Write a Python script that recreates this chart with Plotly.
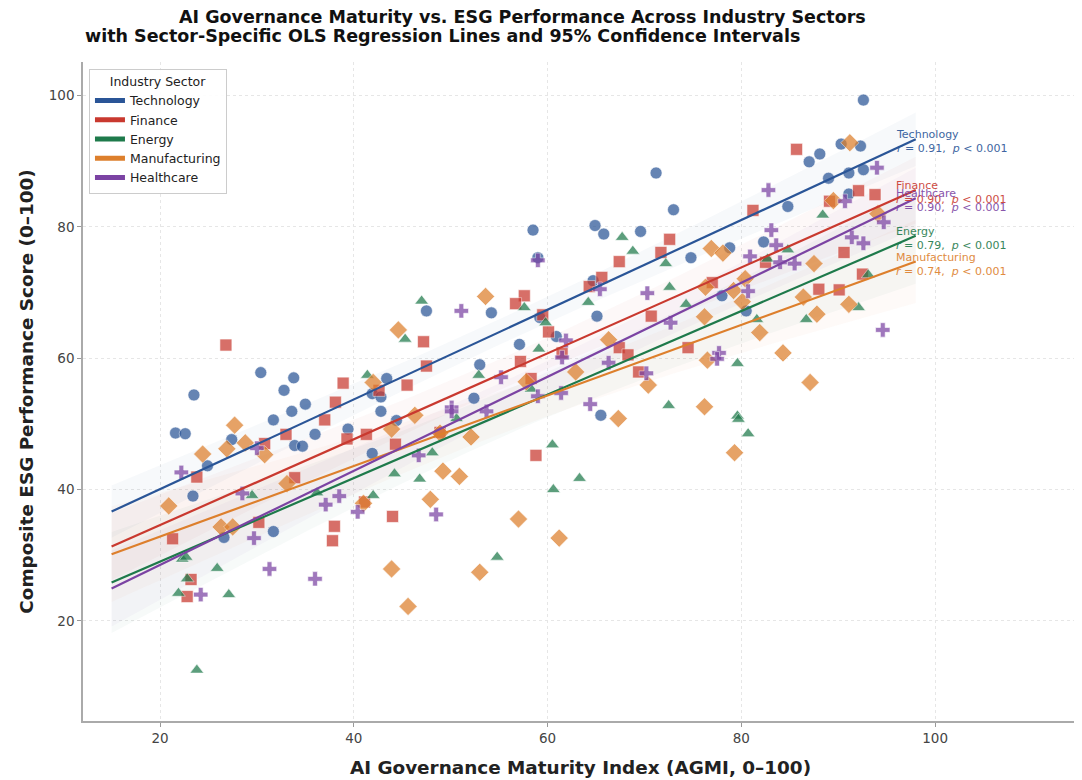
import numpy as np
import plotly.graph_objects as go

sectors = ["Technology", "Finance", "Energy", "Manufacturing", "Healthcare"]
colors = ["#2A5597", "#C9392F", "#1E7A4B", "#DD7F2C", "#7B43A3"]
symbols = ["circle", "square", "triangle-up", "diamond", "cross"]

tech_x = [30.4, 33.8, 32.8, 23.5, 35.0, 33.6, 31.7, 21.6, 22.6, 27.4, 36.0, 33.9, 34.7, 39.4, 24.9, 23.4, 31.7, 26.6,
          43.4, 41.9, 42.8, 42.8, 44.4, 41.9, 71.2, 73.0, 58.5, 64.9, 65.8, 69.6, 74.8, 59.0, 64.7, 65.1, 47.5, 54.2,
          59.2, 60.9, 57.1, 53.0, 52.4, 65.5, 92.6, 90.3, 92.3, 87.0, 88.1, 91.1, 92.6, 89.0, 91.1, 84.8, 82.3, 78.8,
          78.0, 80.5]
tech_y = [57.8, 57.0, 55.1, 54.4, 53.0, 51.9, 50.6, 48.6, 48.5, 47.6, 48.4, 46.7, 46.6, 49.2, 43.6, 39.0, 33.6, 32.7,
          56.9, 54.6, 54.1, 51.9, 50.5, 45.5, 88.2, 82.6, 79.5, 80.2, 78.9, 79.3, 75.3, 75.3, 71.8, 66.4, 67.2, 66.9,
          66.2, 63.3, 62.1, 59.0, 53.9, 51.3, 99.3, 92.6, 92.3, 89.9, 91.1, 88.2, 88.7, 87.4, 85.0, 83.1, 77.7, 76.8,
          69.5, 67.2]

fin_x = [26.8, 38.9, 45.5, 38.1, 37.0, 42.6, 33.0, 30.8, 39.3, 41.3, 44.3, 23.8, 33.9, 30.2, 21.3, 38.0, 37.8, 44.0,
         41.1, 23.2, 22.8, 72.6, 71.7, 67.4, 65.6, 64.3, 57.6, 56.7, 59.5, 60.1, 70.7, 47.2, 47.5, 57.2, 61.5, 67.4,
         68.3, 69.4, 74.5, 58.3, 58.8, 48.9, 85.7, 81.2, 92.1, 93.8, 89.1, 90.6, 82.5, 77.0, 92.5, 88.0, 90.1]
fin_y = [62.0, 56.2, 55.9, 53.3, 50.6, 55.1, 48.4, 47.0, 47.7, 48.4, 46.9, 41.9, 41.8, 35.0, 32.5, 34.4, 32.2, 35.9,
         38.1, 26.3, 23.7, 78.1, 76.1, 74.7, 72.3, 70.9, 69.5, 68.3, 66.6, 64.0, 66.4, 62.5, 58.8, 59.5, 60.8, 61.6,
         60.5, 57.9, 61.6, 56.9, 45.2, 48.7, 91.8, 82.5, 85.5, 84.9, 83.9, 76.1, 74.6, 71.5, 72.8, 70.5, 70.4]

eng_x = [41.4, 29.5, 42.0, 36.2, 44.2, 22.3, 22.7, 25.9, 22.8, 21.9, 27.1, 23.8, 46.8, 45.3, 67.7, 68.8, 72.2, 72.6,
         64.2, 47.0, 57.6, 59.8, 74.3, 59.1, 52.9, 58.3, 72.5, 48.1, 50.6, 60.5, 60.6, 63.3, 54.8, 88.4, 84.8, 82.7,
         93.1, 92.1, 86.7, 81.6, 79.6, 79.6, 79.7, 80.7]
eng_y = [57.4, 39.1, 39.1, 39.5, 42.4, 29.4, 29.7, 28.0, 26.4, 24.2, 24.0, 12.5, 41.6, 62.9, 78.4, 76.3, 74.4, 70.8,
         68.5, 68.7, 67.7, 65.4, 68.2, 61.4, 57.4, 55.3, 52.8, 45.6, 50.8, 46.8, 40.0, 41.7, 29.7, 81.8, 76.5, 75.1,
         72.7, 67.7, 65.9, 65.9, 59.2, 51.2, 50.7, 48.5]

man_x = [44.6, 42.0, 27.7, 26.9, 28.8, 30.8, 24.4, 46.3, 43.9, 20.9, 33.1, 26.3, 27.5, 41.0, 43.9, 45.6, 53.6, 66.3,
         57.8, 62.9, 70.4, 52.1, 49.2, 50.9, 47.9, 57.0, 61.2, 53.0, 67.3, 48.9, 91.2, 89.5, 94.1, 76.9, 78.1, 87.5,
         76.3, 80.4, 79.2, 80.1, 86.4, 91.1, 87.8, 76.2, 81.9, 84.3, 76.5, 87.1, 76.2, 79.3]
man_y = [64.3, 56.3, 49.8, 46.2, 47.1, 45.3, 45.4, 51.3, 49.2, 37.5, 40.9, 34.3, 34.3, 37.9, 27.9, 22.2, 69.4, 62.8,
         56.4, 57.9, 55.9, 48.0, 42.8, 42.0, 38.5, 35.5, 32.6, 27.4, 50.8, 48.6, 92.8, 84.0, 82.0, 76.7, 76.0, 74.4,
         70.8, 72.1, 70.3, 68.6, 69.3, 68.2, 66.7, 66.3, 63.9, 60.8, 59.7, 56.3, 52.6, 45.6]

hc_x = [22.2, 30.0, 28.5, 37.1, 38.5, 40.4, 29.7, 31.3, 36.0, 24.2, 46.7, 51.1, 70.3, 65.4, 72.7, 61.9, 61.5, 66.3,
        70.2, 55.2, 59.0, 61.4, 59.0, 50.1, 64.4, 48.5, 50.1, 53.7, 94.0, 82.8, 90.7, 94.7, 83.1, 91.4, 92.6, 83.6,
        80.9, 84.0, 85.5, 80.7, 94.6, 77.7, 77.5]
hc_y = [42.6, 46.3, 39.4, 37.7, 39.0, 36.6, 32.6, 27.9, 26.4, 24.0, 45.2, 67.2, 69.9, 70.5, 65.4, 62.7, 60.1, 59.3,
        57.7, 57.1, 54.2, 54.7, 74.9, 52.5, 53.0, 36.2, 51.9, 51.9, 89.0, 85.6, 83.9, 80.7, 79.5, 78.4, 77.5, 77.2,
        75.5, 74.6, 74.4, 70.2, 64.3, 60.8, 59.9]

xs = [tech_x, fin_x, eng_x, man_x, hc_x]
ys = [tech_y, fin_y, eng_y, man_y, hc_y]

# regression lines (intercept, slope)
fit_intercept = [26.4, 21.5, 16.3, 22.1, 14.2]
fit_slope = [0.683, 0.654, 0.636, 0.537, 0.716]
r_values = ["0.91", "0.90", "0.79", "0.74", "0.90"]
line_x_range = [15, 98]

fig = go.Figure()


def hex_rgba(h, a):
    h = h.lstrip("#")
    return "rgba(%d,%d,%d,%.3f)" % (int(h[0:2], 16), int(h[2:4], 16), int(h[4:6], 16), a)


# confidence bands
for i, s in enumerate(sectors):
    x = np.array(xs[i]); y = np.array(ys[i])
    b0, b1 = fit_intercept[i], fit_slope[i]
    n = len(x)
    resid = y - (b0 + b1 * x)
    sres = np.sqrt(np.sum(resid ** 2) / (n - 2))
    xm = x.mean(); sxx = np.sum((x - xm) ** 2)
    gx = np.linspace(line_x_range[0], line_x_range[1], 100)
    gy = b0 + b1 * gx
    half = 2.01 * sres * np.sqrt(1.0 / n + (gx - xm) ** 2 / sxx)
    fig.add_trace(go.Scatter(x=np.concatenate([gx, gx[::-1]]), y=np.concatenate([gy + half, (gy - half)[::-1]]),
                             fill="toself", fillcolor=hex_rgba(colors[i], 0.035), line=dict(width=0),
                             hoverinfo="skip", showlegend=False))

# points
for i, s in enumerate(sectors):
    fig.add_trace(go.Scatter(x=xs[i], y=ys[i], mode="markers", showlegend=False, name=s,
                             marker=dict(symbol=symbols[i], color=colors[i], opacity=0.72,
                                         size=14 if symbols[i] == "diamond" else 12,
                                         line=dict(color="white", width=0.6))))

# regression lines
for i, s in enumerate(sectors):
    gx = np.array(line_x_range, dtype=float)
    gy = fit_intercept[i] + fit_slope[i] * gx
    fig.add_trace(go.Scatter(x=gx, y=gy, mode="lines", line=dict(color=colors[i], width=2.2), showlegend=False))
    fig.add_annotation(x=95.8, y=gy[1] - 0.4, xref="x", yref="y", xanchor="left", yanchor="middle",
                       text=f"{s}<br><i>r</i> = {r_values[i]},  <i>p</i> < 0.001", showarrow=False, align="left",
                       font=dict(family="DejaVu Sans", size=11, color=colors[i]), opacity=0.9)

# legend entries
for i, s in enumerate(sectors):
    fig.add_trace(go.Scatter(x=[None], y=[None], mode="lines", name=s, line=dict(color=colors[i], width=5)))

fig.add_annotation(xref="paper", yref="paper", x=0.4417, y=1.0, yshift=45, xanchor="center", yanchor="middle",
                   text="<b>AI Governance Maturity vs. ESG Performance Across Industry Sectors</b>", showarrow=False,
                   font=dict(family="DejaVu Sans", size=17.5, color="#111"))
fig.add_annotation(xref="paper", yref="paper", x=0.0, y=1.0, yshift=26, xanchor="left", yanchor="middle",
                   text="<b>with Sector-Specific OLS Regression Lines and 95% Confidence Intervals</b>", showarrow=False,
                   font=dict(family="DejaVu Sans", size=17.5, color="#111"))

axis_common = dict(showline=True, linecolor="#aaa", linewidth=1.5, ticks="outside", ticklen=4, tickcolor="#999",
                   showgrid=True, gridcolor="#e6e6e6", griddash="dot", zeroline=False,
                   tickfont=dict(family="DejaVu Sans", size=13.5, color="#444"))

fig.update_layout(
    width=1074, height=772,
    margin=dict(l=75, r=4, t=54, b=59),
    plot_bgcolor="white", paper_bgcolor="white",
    xaxis=dict(range=[12.05, 114.75], tickvals=[20, 40, 60, 80, 100],
               title=dict(text="<b>AI Governance Maturity Index (AGMI, 0–100)</b>", standoff=16,
                          font=dict(family="DejaVu Sans", size=18.4, color="#222")), **axis_common),
    yaxis=dict(range=[4.75, 105.1], tickvals=[20, 40, 60, 80, 100],
               title=dict(text="<b>Composite ESG Performance Score (0–100)</b>", standoff=10,
                          font=dict(family="DejaVu Sans", size=18.4, color="#222")), **axis_common),
    legend=dict(x=0.006, y=0.99, xanchor="left", yanchor="top", bgcolor="rgba(255,255,255,0.9)",
                bordercolor="#ccc", borderwidth=1, title=dict(text="Industry Sector", side="top center",
                font=dict(family="DejaVu Sans", size=12.5, color="#222")),
                font=dict(family="DejaVu Sans", size=12.5, color="#222"), tracegroupgap=0, itemwidth=30),
    font=dict(family="DejaVu Sans"),
)

fig.write_html("out.html")
